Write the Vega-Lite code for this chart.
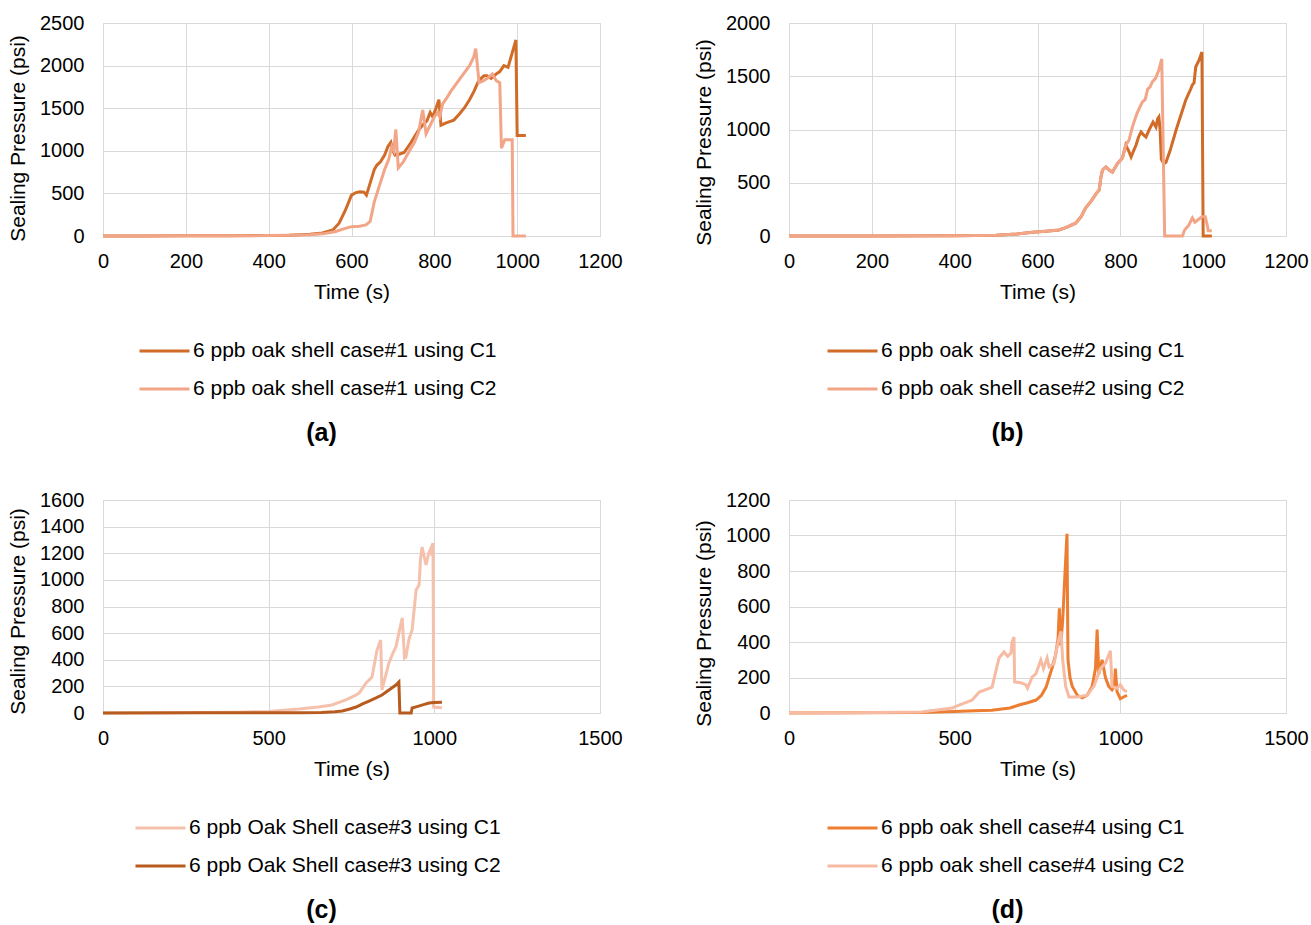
{
"$schema": "https://vega.github.io/schema/vega-lite/v6.json",
"background": "white",
"padding": {"left": 7, "top": 12, "right": 5, "bottom": 5},
"config": {
  "font": "Liberation Sans",
  "view": {"stroke": "#D9D9D9"},
  "axis": {"labelFontSize": 20, "titleFontSize": 21, "titleFontWeight": "normal", "labelColor": "#000000", "titleColor": "#000000", "gridColor": "#D9D9D9", "domain": false, "ticks": false, "labelFont": "Liberation Sans", "titleFont": "Liberation Sans", "format": "d", "labelFlush": false},
  "axisX": {"labelPadding": 15, "titlePadding": 10},
  "axisY": {"labelPadding": 19, "titlePadding": 11},
  "legend": {"orient": "none", "direction": "vertical", "title": null, "symbolType": "stroke", "symbolSize": 2500, "symbolStrokeWidth": 3, "labelFontSize": 21, "labelColor": "#000000", "labelFont": "Liberation Sans", "labelLimit": 500, "clipHeight": 20, "rowPadding": 17, "labelOffset": 2},
  "title": {"fontSize": 25, "fontWeight": "bold", "orient": "bottom", "color": "#000000", "offset": 22, "dx": -30, "font": "Liberation Sans"},
  "line": {"strokeWidth": 3}
},
"datasets": {
"a": [
{"s":"6 ppb oak shell case#1 using C1","t":0,"p":0},{"s":"6 ppb oak shell case#1 using C1","t":100,"p":1},{"s":"6 ppb oak shell case#1 using C1","t":200,"p":2},{"s":"6 ppb oak shell case#1 using C1","t":300,"p":3},{"s":"6 ppb oak shell case#1 using C1","t":400,"p":6},{"s":"6 ppb oak shell case#1 using C1","t":450,"p":10},{"s":"6 ppb oak shell case#1 using C1","t":500,"p":20},{"s":"6 ppb oak shell case#1 using C1","t":530,"p":35},{"s":"6 ppb oak shell case#1 using C1","t":555,"p":70},{"s":"6 ppb oak shell case#1 using C1","t":570,"p":150},{"s":"6 ppb oak shell case#1 using C1","t":585,"p":300},{"s":"6 ppb oak shell case#1 using C1","t":600,"p":480},{"s":"6 ppb oak shell case#1 using C1","t":611,"p":510},{"s":"6 ppb oak shell case#1 using C1","t":620,"p":520},{"s":"6 ppb oak shell case#1 using C1","t":630,"p":515},{"s":"6 ppb oak shell case#1 using C1","t":636,"p":480},{"s":"6 ppb oak shell case#1 using C1","t":645,"p":620},{"s":"6 ppb oak shell case#1 using C1","t":655,"p":780},{"s":"6 ppb oak shell case#1 using C1","t":661,"p":830},{"s":"6 ppb oak shell case#1 using C1","t":670,"p":870},{"s":"6 ppb oak shell case#1 using C1","t":680,"p":950},{"s":"6 ppb oak shell case#1 using C1","t":688,"p":1050},{"s":"6 ppb oak shell case#1 using C1","t":695,"p":1100},{"s":"6 ppb oak shell case#1 using C1","t":700,"p":1000},{"s":"6 ppb oak shell case#1 using C1","t":705,"p":950},{"s":"6 ppb oak shell case#1 using C1","t":715,"p":960},{"s":"6 ppb oak shell case#1 using C1","t":727,"p":980},{"s":"6 ppb oak shell case#1 using C1","t":744,"p":1100},{"s":"6 ppb oak shell case#1 using C1","t":763,"p":1250},{"s":"6 ppb oak shell case#1 using C1","t":775,"p":1320},{"s":"6 ppb oak shell case#1 using C1","t":782,"p":1350},{"s":"6 ppb oak shell case#1 using C1","t":790,"p":1450},{"s":"6 ppb oak shell case#1 using C1","t":796,"p":1400},{"s":"6 ppb oak shell case#1 using C1","t":804,"p":1500},{"s":"6 ppb oak shell case#1 using C1","t":811,"p":1600},{"s":"6 ppb oak shell case#1 using C1","t":816,"p":1300},{"s":"6 ppb oak shell case#1 using C1","t":830,"p":1330},{"s":"6 ppb oak shell case#1 using C1","t":847,"p":1360},{"s":"6 ppb oak shell case#1 using C1","t":860,"p":1430},{"s":"6 ppb oak shell case#1 using C1","t":872,"p":1500},{"s":"6 ppb oak shell case#1 using C1","t":885,"p":1600},{"s":"6 ppb oak shell case#1 using C1","t":896,"p":1700},{"s":"6 ppb oak shell case#1 using C1","t":905,"p":1800},{"s":"6 ppb oak shell case#1 using C1","t":913,"p":1850},{"s":"6 ppb oak shell case#1 using C1","t":920,"p":1880},{"s":"6 ppb oak shell case#1 using C1","t":927,"p":1880},{"s":"6 ppb oak shell case#1 using C1","t":937,"p":1850},{"s":"6 ppb oak shell case#1 using C1","t":949,"p":1900},{"s":"6 ppb oak shell case#1 using C1","t":958,"p":1930},{"s":"6 ppb oak shell case#1 using C1","t":968,"p":2000},{"s":"6 ppb oak shell case#1 using C1","t":978,"p":1980},{"s":"6 ppb oak shell case#1 using C1","t":988,"p":2150},{"s":"6 ppb oak shell case#1 using C1","t":997,"p":2300},{"s":"6 ppb oak shell case#1 using C1","t":1000,"p":1180},{"s":"6 ppb oak shell case#1 using C1","t":1021,"p":1180},
{"s":"6 ppb oak shell case#1 using C2","t":0,"p":0},{"s":"6 ppb oak shell case#1 using C2","t":100,"p":1},{"s":"6 ppb oak shell case#1 using C2","t":200,"p":2},{"s":"6 ppb oak shell case#1 using C2","t":300,"p":3},{"s":"6 ppb oak shell case#1 using C2","t":400,"p":5},{"s":"6 ppb oak shell case#1 using C2","t":450,"p":8},{"s":"6 ppb oak shell case#1 using C2","t":500,"p":15},{"s":"6 ppb oak shell case#1 using C2","t":530,"p":25},{"s":"6 ppb oak shell case#1 using C2","t":560,"p":50},{"s":"6 ppb oak shell case#1 using C2","t":585,"p":90},{"s":"6 ppb oak shell case#1 using C2","t":600,"p":110},{"s":"6 ppb oak shell case#1 using C2","t":620,"p":115},{"s":"6 ppb oak shell case#1 using C2","t":635,"p":130},{"s":"6 ppb oak shell case#1 using C2","t":645,"p":170},{"s":"6 ppb oak shell case#1 using C2","t":655,"p":400},{"s":"6 ppb oak shell case#1 using C2","t":668,"p":600},{"s":"6 ppb oak shell case#1 using C2","t":680,"p":780},{"s":"6 ppb oak shell case#1 using C2","t":690,"p":900},{"s":"6 ppb oak shell case#1 using C2","t":697,"p":1050},{"s":"6 ppb oak shell case#1 using C2","t":702,"p":1000},{"s":"6 ppb oak shell case#1 using C2","t":707,"p":1250},{"s":"6 ppb oak shell case#1 using C2","t":713,"p":800},{"s":"6 ppb oak shell case#1 using C2","t":725,"p":870},{"s":"6 ppb oak shell case#1 using C2","t":740,"p":1000},{"s":"6 ppb oak shell case#1 using C2","t":752,"p":1100},{"s":"6 ppb oak shell case#1 using C2","t":762,"p":1220},{"s":"6 ppb oak shell case#1 using C2","t":772,"p":1480},{"s":"6 ppb oak shell case#1 using C2","t":780,"p":1200},{"s":"6 ppb oak shell case#1 using C2","t":790,"p":1300},{"s":"6 ppb oak shell case#1 using C2","t":800,"p":1400},{"s":"6 ppb oak shell case#1 using C2","t":808,"p":1450},{"s":"6 ppb oak shell case#1 using C2","t":813,"p":1400},{"s":"6 ppb oak shell case#1 using C2","t":820,"p":1550},{"s":"6 ppb oak shell case#1 using C2","t":830,"p":1620},{"s":"6 ppb oak shell case#1 using C2","t":840,"p":1700},{"s":"6 ppb oak shell case#1 using C2","t":855,"p":1800},{"s":"6 ppb oak shell case#1 using C2","t":870,"p":1900},{"s":"6 ppb oak shell case#1 using C2","t":885,"p":2000},{"s":"6 ppb oak shell case#1 using C2","t":895,"p":2100},{"s":"6 ppb oak shell case#1 using C2","t":900,"p":2200},{"s":"6 ppb oak shell case#1 using C2","t":908,"p":1800},{"s":"6 ppb oak shell case#1 using C2","t":918,"p":1820},{"s":"6 ppb oak shell case#1 using C2","t":928,"p":1850},{"s":"6 ppb oak shell case#1 using C2","t":940,"p":1900},{"s":"6 ppb oak shell case#1 using C2","t":950,"p":1820},{"s":"6 ppb oak shell case#1 using C2","t":958,"p":1800},{"s":"6 ppb oak shell case#1 using C2","t":962,"p":1030},{"s":"6 ppb oak shell case#1 using C2","t":970,"p":1130},{"s":"6 ppb oak shell case#1 using C2","t":988,"p":1130},{"s":"6 ppb oak shell case#1 using C2","t":990,"p":0},{"s":"6 ppb oak shell case#1 using C2","t":1021,"p":0}
],
"b": [
{"s":"6 ppb oak shell case#2 using C1","t":0,"p":0},{"s":"6 ppb oak shell case#2 using C1","t":200,"p":1},{"s":"6 ppb oak shell case#2 using C1","t":400,"p":3},{"s":"6 ppb oak shell case#2 using C1","t":500,"p":8},{"s":"6 ppb oak shell case#2 using C1","t":550,"p":18},{"s":"6 ppb oak shell case#2 using C1","t":588,"p":35},{"s":"6 ppb oak shell case#2 using C1","t":620,"p":45},{"s":"6 ppb oak shell case#2 using C1","t":652,"p":56},{"s":"6 ppb oak shell case#2 using C1","t":670,"p":80},{"s":"6 ppb oak shell case#2 using C1","t":692,"p":120},{"s":"6 ppb oak shell case#2 using C1","t":705,"p":180},{"s":"6 ppb oak shell case#2 using C1","t":716,"p":263},{"s":"6 ppb oak shell case#2 using C1","t":730,"p":330},{"s":"6 ppb oak shell case#2 using C1","t":742,"p":400},{"s":"6 ppb oak shell case#2 using C1","t":749,"p":432},{"s":"6 ppb oak shell case#2 using C1","t":753,"p":550},{"s":"6 ppb oak shell case#2 using C1","t":757,"p":620},{"s":"6 ppb oak shell case#2 using C1","t":765,"p":648},{"s":"6 ppb oak shell case#2 using C1","t":773,"p":620},{"s":"6 ppb oak shell case#2 using C1","t":781,"p":600},{"s":"6 ppb oak shell case#2 using C1","t":793,"p":680},{"s":"6 ppb oak shell case#2 using C1","t":805,"p":732},{"s":"6 ppb oak shell case#2 using C1","t":813,"p":854},{"s":"6 ppb oak shell case#2 using C1","t":820,"p":800},{"s":"6 ppb oak shell case#2 using C1","t":826,"p":742},{"s":"6 ppb oak shell case#2 using C1","t":832,"p":800},{"s":"6 ppb oak shell case#2 using C1","t":838,"p":854},{"s":"6 ppb oak shell case#2 using C1","t":844,"p":930},{"s":"6 ppb oak shell case#2 using C1","t":850,"p":977},{"s":"6 ppb oak shell case#2 using C1","t":856,"p":950},{"s":"6 ppb oak shell case#2 using C1","t":862,"p":930},{"s":"6 ppb oak shell case#2 using C1","t":870,"p":1000},{"s":"6 ppb oak shell case#2 using C1","t":879,"p":1070},{"s":"6 ppb oak shell case#2 using C1","t":886,"p":1023},{"s":"6 ppb oak shell case#2 using C1","t":890,"p":1100},{"s":"6 ppb oak shell case#2 using C1","t":893,"p":1117},{"s":"6 ppb oak shell case#2 using C1","t":896,"p":1000},{"s":"6 ppb oak shell case#2 using C1","t":899,"p":720},{"s":"6 ppb oak shell case#2 using C1","t":905,"p":680},{"s":"6 ppb oak shell case#2 using C1","t":910,"p":690},{"s":"6 ppb oak shell case#2 using C1","t":920,"p":800},{"s":"6 ppb oak shell case#2 using C1","t":935,"p":1000},{"s":"6 ppb oak shell case#2 using C1","t":950,"p":1180},{"s":"6 ppb oak shell case#2 using C1","t":958,"p":1277},{"s":"6 ppb oak shell case#2 using C1","t":963,"p":1320},{"s":"6 ppb oak shell case#2 using C1","t":970,"p":1380},{"s":"6 ppb oak shell case#2 using C1","t":974,"p":1420},{"s":"6 ppb oak shell case#2 using C1","t":978,"p":1437},{"s":"6 ppb oak shell case#2 using C1","t":982,"p":1587},{"s":"6 ppb oak shell case#2 using C1","t":990,"p":1650},{"s":"6 ppb oak shell case#2 using C1","t":997,"p":1728},{"s":"6 ppb oak shell case#2 using C1","t":1000,"p":0},{"s":"6 ppb oak shell case#2 using C1","t":1021,"p":0},
{"s":"6 ppb oak shell case#2 using C2","t":0,"p":0},{"s":"6 ppb oak shell case#2 using C2","t":200,"p":1},{"s":"6 ppb oak shell case#2 using C2","t":400,"p":3},{"s":"6 ppb oak shell case#2 using C2","t":500,"p":8},{"s":"6 ppb oak shell case#2 using C2","t":550,"p":18},{"s":"6 ppb oak shell case#2 using C2","t":588,"p":35},{"s":"6 ppb oak shell case#2 using C2","t":620,"p":45},{"s":"6 ppb oak shell case#2 using C2","t":652,"p":56},{"s":"6 ppb oak shell case#2 using C2","t":670,"p":80},{"s":"6 ppb oak shell case#2 using C2","t":692,"p":120},{"s":"6 ppb oak shell case#2 using C2","t":705,"p":180},{"s":"6 ppb oak shell case#2 using C2","t":716,"p":263},{"s":"6 ppb oak shell case#2 using C2","t":730,"p":330},{"s":"6 ppb oak shell case#2 using C2","t":742,"p":400},{"s":"6 ppb oak shell case#2 using C2","t":749,"p":432},{"s":"6 ppb oak shell case#2 using C2","t":753,"p":550},{"s":"6 ppb oak shell case#2 using C2","t":757,"p":620},{"s":"6 ppb oak shell case#2 using C2","t":765,"p":648},{"s":"6 ppb oak shell case#2 using C2","t":773,"p":620},{"s":"6 ppb oak shell case#2 using C2","t":781,"p":600},{"s":"6 ppb oak shell case#2 using C2","t":793,"p":680},{"s":"6 ppb oak shell case#2 using C2","t":805,"p":732},{"s":"6 ppb oak shell case#2 using C2","t":813,"p":854},{"s":"6 ppb oak shell case#2 using C2","t":821,"p":900},{"s":"6 ppb oak shell case#2 using C2","t":829,"p":1023},{"s":"6 ppb oak shell case#2 using C2","t":840,"p":1150},{"s":"6 ppb oak shell case#2 using C2","t":853,"p":1258},{"s":"6 ppb oak shell case#2 using C2","t":860,"p":1280},{"s":"6 ppb oak shell case#2 using C2","t":866,"p":1380},{"s":"6 ppb oak shell case#2 using C2","t":872,"p":1400},{"s":"6 ppb oak shell case#2 using C2","t":877,"p":1446},{"s":"6 ppb oak shell case#2 using C2","t":885,"p":1480},{"s":"6 ppb oak shell case#2 using C2","t":893,"p":1559},{"s":"6 ppb oak shell case#2 using C2","t":900,"p":1662},{"s":"6 ppb oak shell case#2 using C2","t":907,"p":0},{"s":"6 ppb oak shell case#2 using C2","t":950,"p":0},{"s":"6 ppb oak shell case#2 using C2","t":955,"p":55},{"s":"6 ppb oak shell case#2 using C2","t":965,"p":100},{"s":"6 ppb oak shell case#2 using C2","t":974,"p":170},{"s":"6 ppb oak shell case#2 using C2","t":980,"p":130},{"s":"6 ppb oak shell case#2 using C2","t":990,"p":160},{"s":"6 ppb oak shell case#2 using C2","t":997,"p":180},{"s":"6 ppb oak shell case#2 using C2","t":1005,"p":180},{"s":"6 ppb oak shell case#2 using C2","t":1010,"p":100},{"s":"6 ppb oak shell case#2 using C2","t":1012,"p":50},{"s":"6 ppb oak shell case#2 using C2","t":1021,"p":50}
],
"c": [
{"s":"6 ppb Oak Shell case#3 using C1","t":0,"p":0},{"s":"6 ppb Oak Shell case#3 using C1","t":200,"p":2},{"s":"6 ppb Oak Shell case#3 using C1","t":400,"p":6},{"s":"6 ppb Oak Shell case#3 using C1","t":500,"p":12},{"s":"6 ppb Oak Shell case#3 using C1","t":591,"p":30},{"s":"6 ppb Oak Shell case#3 using C1","t":650,"p":45},{"s":"6 ppb Oak Shell case#3 using C1","t":691,"p":60},{"s":"6 ppb Oak Shell case#3 using C1","t":733,"p":98},{"s":"6 ppb Oak Shell case#3 using C1","t":760,"p":130},{"s":"6 ppb Oak Shell case#3 using C1","t":773,"p":150},{"s":"6 ppb Oak Shell case#3 using C1","t":794,"p":225},{"s":"6 ppb Oak Shell case#3 using C1","t":812,"p":270},{"s":"6 ppb Oak Shell case#3 using C1","t":820,"p":380},{"s":"6 ppb Oak Shell case#3 using C1","t":827,"p":473},{"s":"6 ppb Oak Shell case#3 using C1","t":838,"p":548},{"s":"6 ppb Oak Shell case#3 using C1","t":842,"p":173},{"s":"6 ppb Oak Shell case#3 using C1","t":850,"p":250},{"s":"6 ppb Oak Shell case#3 using C1","t":863,"p":376},{"s":"6 ppb Oak Shell case#3 using C1","t":875,"p":450},{"s":"6 ppb Oak Shell case#3 using C1","t":884,"p":496},{"s":"6 ppb Oak Shell case#3 using C1","t":893,"p":600},{"s":"6 ppb Oak Shell case#3 using C1","t":903,"p":714},{"s":"6 ppb Oak Shell case#3 using C1","t":910,"p":413},{"s":"6 ppb Oak Shell case#3 using C1","t":914,"p":420},{"s":"6 ppb Oak Shell case#3 using C1","t":924,"p":560},{"s":"6 ppb Oak Shell case#3 using C1","t":933,"p":624},{"s":"6 ppb Oak Shell case#3 using C1","t":940,"p":800},{"s":"6 ppb Oak Shell case#3 using C1","t":945,"p":924},{"s":"6 ppb Oak Shell case#3 using C1","t":954,"p":962},{"s":"6 ppb Oak Shell case#3 using C1","t":958,"p":1150},{"s":"6 ppb Oak Shell case#3 using C1","t":963,"p":1247},{"s":"6 ppb Oak Shell case#3 using C1","t":975,"p":1112},{"s":"6 ppb Oak Shell case#3 using C1","t":983,"p":1200},{"s":"6 ppb Oak Shell case#3 using C1","t":990,"p":1240},{"s":"6 ppb Oak Shell case#3 using C1","t":993,"p":1180},{"s":"6 ppb Oak Shell case#3 using C1","t":996,"p":1277},{"s":"6 ppb Oak Shell case#3 using C1","t":998,"p":45},{"s":"6 ppb Oak Shell case#3 using C1","t":1023,"p":40},
{"s":"6 ppb Oak Shell case#3 using C2","t":0,"p":0},{"s":"6 ppb Oak Shell case#3 using C2","t":300,"p":1},{"s":"6 ppb Oak Shell case#3 using C2","t":600,"p":2},{"s":"6 ppb Oak Shell case#3 using C2","t":660,"p":4},{"s":"6 ppb Oak Shell case#3 using C2","t":700,"p":10},{"s":"6 ppb Oak Shell case#3 using C2","t":722,"p":15},{"s":"6 ppb Oak Shell case#3 using C2","t":745,"p":30},{"s":"6 ppb Oak Shell case#3 using C2","t":764,"p":45},{"s":"6 ppb Oak Shell case#3 using C2","t":785,"p":70},{"s":"6 ppb Oak Shell case#3 using C2","t":803,"p":90},{"s":"6 ppb Oak Shell case#3 using C2","t":824,"p":113},{"s":"6 ppb Oak Shell case#3 using C2","t":842,"p":135},{"s":"6 ppb Oak Shell case#3 using C2","t":863,"p":173},{"s":"6 ppb Oak Shell case#3 using C2","t":884,"p":210},{"s":"6 ppb Oak Shell case#3 using C2","t":893,"p":233},{"s":"6 ppb Oak Shell case#3 using C2","t":896,"p":0},{"s":"6 ppb Oak Shell case#3 using C2","t":930,"p":0},{"s":"6 ppb Oak Shell case#3 using C2","t":933,"p":38},{"s":"6 ppb Oak Shell case#3 using C2","t":950,"p":50},{"s":"6 ppb Oak Shell case#3 using C2","t":970,"p":65},{"s":"6 ppb Oak Shell case#3 using C2","t":984,"p":75},{"s":"6 ppb Oak Shell case#3 using C2","t":1000,"p":78},{"s":"6 ppb Oak Shell case#3 using C2","t":1023,"p":80}
],
"d": [
{"s":"6 ppb oak shell case#4 using C1","t":0,"p":0},{"s":"6 ppb oak shell case#4 using C1","t":200,"p":1},{"s":"6 ppb oak shell case#4 using C1","t":400,"p":3},{"s":"6 ppb oak shell case#4 using C1","t":500,"p":8},{"s":"6 ppb oak shell case#4 using C1","t":560,"p":12},{"s":"6 ppb oak shell case#4 using C1","t":612,"p":15},{"s":"6 ppb oak shell case#4 using C1","t":667,"p":28},{"s":"6 ppb oak shell case#4 using C1","t":694,"p":45},{"s":"6 ppb oak shell case#4 using C1","t":720,"p":58},{"s":"6 ppb oak shell case#4 using C1","t":746,"p":73},{"s":"6 ppb oak shell case#4 using C1","t":762,"p":100},{"s":"6 ppb oak shell case#4 using C1","t":776,"p":146},{"s":"6 ppb oak shell case#4 using C1","t":785,"p":200},{"s":"6 ppb oak shell case#4 using C1","t":795,"p":260},{"s":"6 ppb oak shell case#4 using C1","t":805,"p":330},{"s":"6 ppb oak shell case#4 using C1","t":812,"p":420},{"s":"6 ppb oak shell case#4 using C1","t":816,"p":590},{"s":"6 ppb oak shell case#4 using C1","t":820,"p":380},{"s":"6 ppb oak shell case#4 using C1","t":826,"p":520},{"s":"6 ppb oak shell case#4 using C1","t":832,"p":750},{"s":"6 ppb oak shell case#4 using C1","t":836,"p":900},{"s":"6 ppb oak shell case#4 using C1","t":839,"p":1010},{"s":"6 ppb oak shell case#4 using C1","t":842,"p":300},{"s":"6 ppb oak shell case#4 using C1","t":848,"p":200},{"s":"6 ppb oak shell case#4 using C1","t":855,"p":150},{"s":"6 ppb oak shell case#4 using C1","t":870,"p":100},{"s":"6 ppb oak shell case#4 using C1","t":885,"p":85},{"s":"6 ppb oak shell case#4 using C1","t":900,"p":100},{"s":"6 ppb oak shell case#4 using C1","t":915,"p":150},{"s":"6 ppb oak shell case#4 using C1","t":925,"p":250},{"s":"6 ppb oak shell case#4 using C1","t":930,"p":470},{"s":"6 ppb oak shell case#4 using C1","t":935,"p":220},{"s":"6 ppb oak shell case#4 using C1","t":945,"p":300},{"s":"6 ppb oak shell case#4 using C1","t":955,"p":200},{"s":"6 ppb oak shell case#4 using C1","t":965,"p":150},{"s":"6 ppb oak shell case#4 using C1","t":975,"p":130},{"s":"6 ppb oak shell case#4 using C1","t":982,"p":150},{"s":"6 ppb oak shell case#4 using C1","t":985,"p":250},{"s":"6 ppb oak shell case#4 using C1","t":990,"p":120},{"s":"6 ppb oak shell case#4 using C1","t":1000,"p":80},{"s":"6 ppb oak shell case#4 using C1","t":1010,"p":90},{"s":"6 ppb oak shell case#4 using C1","t":1020,"p":100},
{"s":"6 ppb oak shell case#4 using C2","t":0,"p":0},{"s":"6 ppb oak shell case#4 using C2","t":200,"p":2},{"s":"6 ppb oak shell case#4 using C2","t":400,"p":6},{"s":"6 ppb oak shell case#4 using C2","t":493,"p":28},{"s":"6 ppb oak shell case#4 using C2","t":513,"p":45},{"s":"6 ppb oak shell case#4 using C2","t":543,"p":66},{"s":"6 ppb oak shell case#4 using C2","t":553,"p":73},{"s":"6 ppb oak shell case#4 using C2","t":574,"p":118},{"s":"6 ppb oak shell case#4 using C2","t":606,"p":140},{"s":"6 ppb oak shell case#4 using C2","t":613,"p":146},{"s":"6 ppb oak shell case#4 using C2","t":625,"p":242},{"s":"6 ppb oak shell case#4 using C2","t":634,"p":310},{"s":"6 ppb oak shell case#4 using C2","t":649,"p":344},{"s":"6 ppb oak shell case#4 using C2","t":660,"p":320},{"s":"6 ppb oak shell case#4 using C2","t":670,"p":338},{"s":"6 ppb oak shell case#4 using C2","t":673,"p":400},{"s":"6 ppb oak shell case#4 using C2","t":679,"p":428},{"s":"6 ppb oak shell case#4 using C2","t":681,"p":175},{"s":"6 ppb oak shell case#4 using C2","t":700,"p":170},{"s":"6 ppb oak shell case#4 using C2","t":715,"p":158},{"s":"6 ppb oak shell case#4 using C2","t":720,"p":140},{"s":"6 ppb oak shell case#4 using C2","t":734,"p":203},{"s":"6 ppb oak shell case#4 using C2","t":745,"p":220},{"s":"6 ppb oak shell case#4 using C2","t":760,"p":299},{"s":"6 ppb oak shell case#4 using C2","t":768,"p":250},{"s":"6 ppb oak shell case#4 using C2","t":779,"p":310},{"s":"6 ppb oak shell case#4 using C2","t":785,"p":260},{"s":"6 ppb oak shell case#4 using C2","t":800,"p":280},{"s":"6 ppb oak shell case#4 using C2","t":812,"p":400},{"s":"6 ppb oak shell case#4 using C2","t":821,"p":460},{"s":"6 ppb oak shell case#4 using C2","t":826,"p":300},{"s":"6 ppb oak shell case#4 using C2","t":835,"p":150},{"s":"6 ppb oak shell case#4 using C2","t":845,"p":90},{"s":"6 ppb oak shell case#4 using C2","t":870,"p":90},{"s":"6 ppb oak shell case#4 using C2","t":900,"p":100},{"s":"6 ppb oak shell case#4 using C2","t":920,"p":150},{"s":"6 ppb oak shell case#4 using C2","t":940,"p":250},{"s":"6 ppb oak shell case#4 using C2","t":955,"p":280},{"s":"6 ppb oak shell case#4 using C2","t":970,"p":350},{"s":"6 ppb oak shell case#4 using C2","t":975,"p":150},{"s":"6 ppb oak shell case#4 using C2","t":990,"p":140},{"s":"6 ppb oak shell case#4 using C2","t":1000,"p":160},{"s":"6 ppb oak shell case#4 using C2","t":1010,"p":130},{"s":"6 ppb oak shell case#4 using C2","t":1020,"p":120}
]
},
"bounds": "flush",
"spacing": 477,
"vconcat": [
 {"hconcat": [
  {"width": 497, "height": 213, "data": {"name": "a"}, "title": {"text": "(a)"},
   "mark": {"type": "line"},
   "encoding": {
    "x": {"field": "t", "type": "quantitative", "scale": {"domain": [0, 1200]}, "axis": {"title": "Time (s)", "values": [0,200,400,600,800,1000,1200]}},
    "y": {"field": "p", "type": "quantitative", "scale": {"domain": [0, 2500]}, "axis": {"title": "Sealing Pressure (psi)", "titleY": 115, "values": [0,500,1000,1500,2000,2500]}},
    "color": {"field": "s", "type": "nominal", "scale": {"domain": ["6 ppb oak shell case#1 using C1","6 ppb oak shell case#1 using C2"], "range": ["#D06B28","#F2A587"]}, "legend": {"legendX": 35, "legendY": 318}}
   }},
  {"width": 497, "height": 213, "data": {"name": "b"}, "title": {"text": "(b)"},
   "mark": {"type": "line"},
   "encoding": {
    "x": {"field": "t", "type": "quantitative", "scale": {"domain": [0, 1200]}, "axis": {"title": "Time (s)", "values": [0,200,400,600,800,1000,1200]}},
    "y": {"field": "p", "type": "quantitative", "scale": {"domain": [0, 2000]}, "axis": {"title": "Sealing Pressure (psi)", "titleY": 119, "values": [0,500,1000,1500,2000]}},
    "color": {"field": "s", "type": "nominal", "scale": {"domain": ["6 ppb oak shell case#2 using C1","6 ppb oak shell case#2 using C2"], "range": ["#D06B28","#F2A587"]}, "legend": {"legendX": 37, "legendY": 318}}
   }}
 ], "spacing": 189, "bounds": "flush", "resolve": {"scale": {"color": "independent", "x": "independent", "y": "independent"}}},
 {"hconcat": [
  {"width": 497, "height": 213, "data": {"name": "c"}, "title": {"text": "(c)"},
   "mark": {"type": "line"},
   "encoding": {
    "x": {"field": "t", "type": "quantitative", "scale": {"domain": [0, 1500]}, "axis": {"title": "Time (s)", "values": [0,500,1000,1500]}},
    "y": {"field": "p", "type": "quantitative", "scale": {"domain": [0, 1600]}, "axis": {"title": "Sealing Pressure (psi)", "titleY": 111, "values": [0,200,400,600,800,1000,1200,1400,1600]}},
    "color": {"field": "s", "type": "nominal", "scale": {"domain": ["6 ppb Oak Shell case#3 using C1","6 ppb Oak Shell case#3 using C2"], "range": ["#F5C1AC","#B85B1E"]}, "legend": {"legendX": 31, "legendY": 318}}
   }},
  {"width": 497, "height": 213, "data": {"name": "d"}, "title": {"text": "(d)"},
   "mark": {"type": "line"},
   "encoding": {
    "x": {"field": "t", "type": "quantitative", "scale": {"domain": [0, 1500]}, "axis": {"title": "Time (s)", "values": [0,500,1000,1500]}},
    "y": {"field": "p", "type": "quantitative", "scale": {"domain": [0, 1200]}, "axis": {"title": "Sealing Pressure (psi)", "titleY": 123, "values": [0,200,400,600,800,1000,1200]}},
    "color": {"field": "s", "type": "nominal", "scale": {"domain": ["6 ppb oak shell case#4 using C1","6 ppb oak shell case#4 using C2"], "range": ["#ED7D31","#F6BBA2"]}, "legend": {"legendX": 37, "legendY": 318}}
   }}
 ], "spacing": 189, "bounds": "flush", "resolve": {"scale": {"color": "independent", "x": "independent", "y": "independent"}}}
],
"resolve": {"scale": {"color": "independent", "x": "independent", "y": "independent"}}
}
